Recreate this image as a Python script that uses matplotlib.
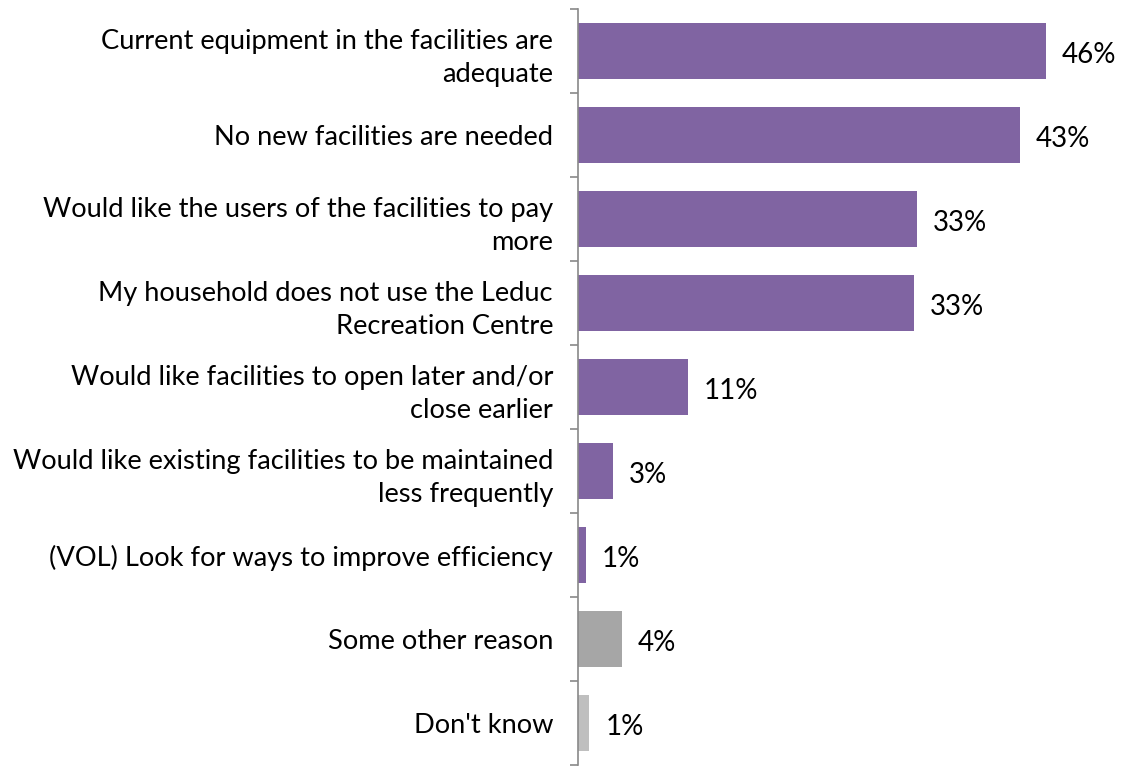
import matplotlib
matplotlib.use("Agg")
import matplotlib.pyplot as plt

categories = [
    "Current equipment in the facilities are\nadequate",
    "No new facilities are needed",
    "Would like the users of the facilities to pay\nmore",
    "My household does not use the Leduc\nRecreation Centre",
    "Would like facilities to open later and/or\nclose earlier",
    "Would like existing facilities to be maintained\nless frequently",
    "(VOL) Look for ways to improve efficiency",
    "Some other reason",
    "Don't know",
]
values = [45.9, 43.3, 33.2, 32.9, 10.8, 3.4, 0.8, 4.3, 1.1]
colors = ["#8064A2"] * 7 + ["#A6A6A6", "#BFBFBF"]

plt.rcParams['font.family'] = ['Lato', 'DejaVu Sans']

fig = plt.figure(figsize=(11.26, 7.69), dpi=100)
ax = fig.add_axes([578/1126, 1 - 765/769, (1088-578)/1126, (765-9)/769])

y = list(range(len(categories)))
ax.barh(y, values, height=0.67, color=colors)
ax.set_xlim(0, 50)
ax.set_ylim(len(categories) - 0.5, -0.5)

for yi, v in zip(y, values):
    ax.annotate(f"{round(v)}%", (v, yi), xytext=(11.5, -3), textcoords="offset points",
                va="center", ha="left", fontsize=20, color="#000000")

ax.set_yticks([i - 0.5 for i in range(len(categories) + 1)])
ax.set_yticklabels([])
ax.tick_params(axis="y", which="major", length=6, width=1.2, color="#898989", direction="out")
ax.set_yticks(y, minor=True)
ax.set_yticklabels(categories, minor=True, fontsize=19.6, color="#000000", ha="right")
for lbl in ax.get_yticklabels(minor=True):
    lbl.set_linespacing(1.42)
ax.tick_params(axis="y", which="minor", length=0, pad=18)
ax.set_xticks([])
for s in ["top", "right", "bottom"]:
    ax.spines[s].set_visible(False)
ax.spines["left"].set_color("#898989")
ax.spines["left"].set_linewidth(1.2)

fig.savefig("out.png", dpi=100)
